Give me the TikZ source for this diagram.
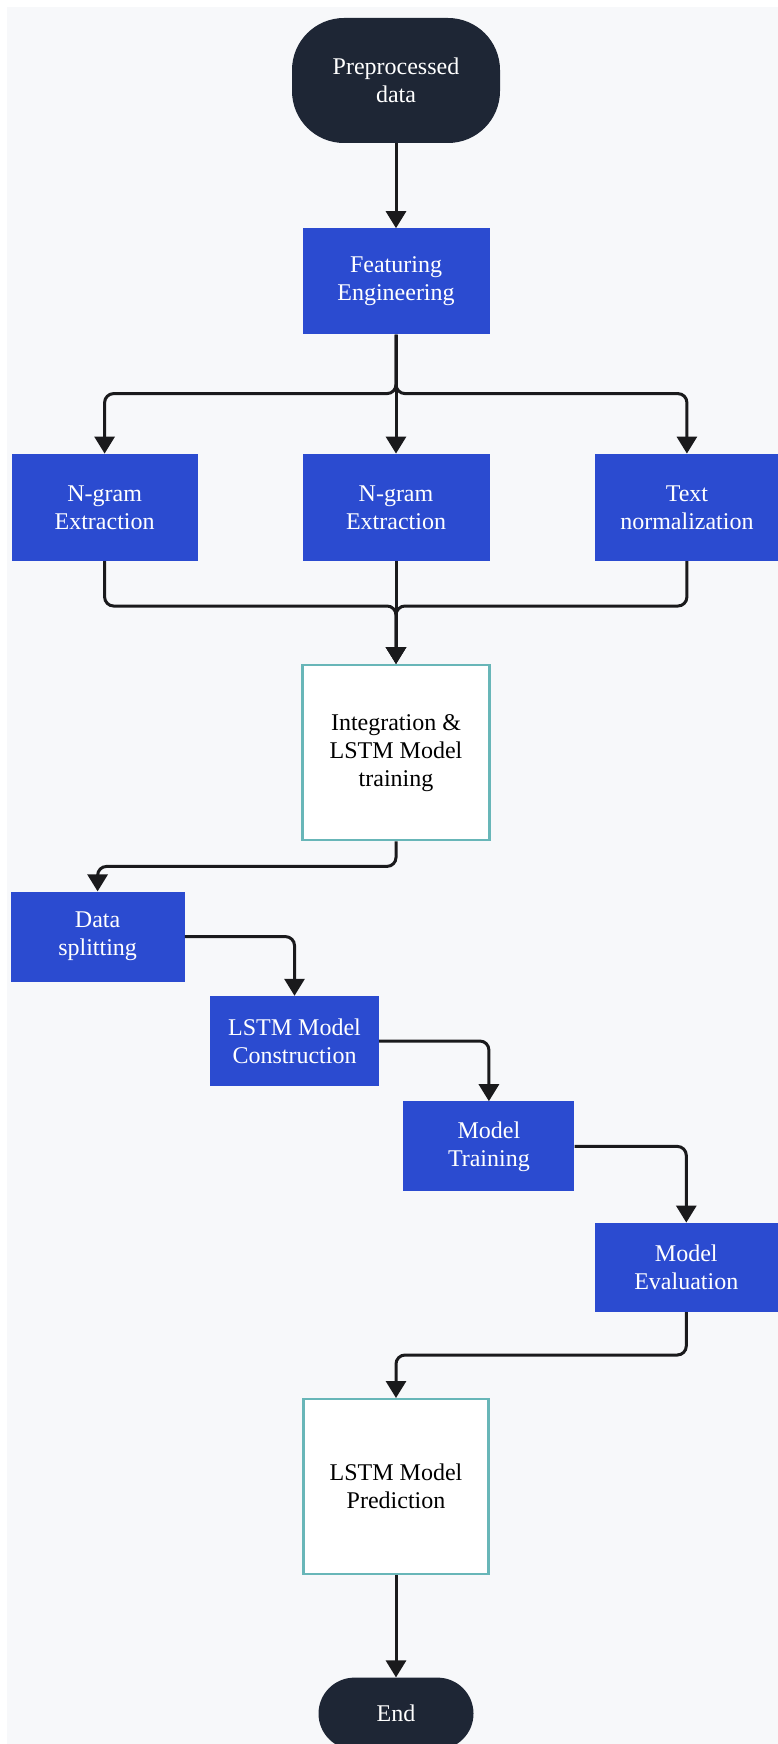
\documentclass[tikz,border=0pt]{standalone}
\usepackage{fontspec}
\setmainfont{Liberation Serif}
\usepackage{tikz}
\usetikzlibrary{arrows.meta,positioning}
\definecolor{boxblue}{RGB}{43,75,208}
\definecolor{navy}{RGB}{30,38,53}
\definecolor{teal}{RGB}{104,182,184}
\definecolor{bgcol}{RGB}{247,248,250}
\definecolor{linecol}{RGB}{26,26,28}

\begin{document}
\begin{tikzpicture}[
  x=1pt, y=1pt, font=\fontsize{24}{28}\selectfont,
  terminal/.style={fill=navy, text=white, align=center, inner sep=0pt},
  bluebox/.style={fill=boxblue, text=white, align=center, inner sep=0pt, minimum height=90pt},
  whitebox/.style={draw=teal, line width=2.4pt, fill=white, align=center, inner sep=0pt, minimum width=185pt, minimum height=175pt},
  arr/.style={draw=linecol, line width=3pt, -{Triangle[width=20pt,length=17pt]}, rounded corners=9pt}]
\fill[white] (0,0) rectangle (778,-1744);
\fill[bgcol] (7,-7) rectangle (778,-1744);
\useasboundingbox (0,0) rectangle (778,-1744);
\node[terminal, minimum width=208pt, minimum height=125pt, rounded corners=52pt] (pre) at (396,-80.5) {Preprocessed\\ data};
\node[bluebox, minimum width=187pt, minimum height=106pt, below=85pt of pre] (fe) {Featuring\\ Engineering};
\node[bluebox, minimum width=187pt, minimum height=107pt, below=119pt of fe] (ng2) {N-gram\\ Extraction};
\node[bluebox, minimum width=186pt, minimum height=107pt, left=104.5pt of ng2] (ng1) {N-gram\\ Extraction};
\node[bluebox, minimum width=183pt, minimum height=107pt, right=105.5pt of ng2] (tn) {Text\\ normalization};
\node[whitebox, minimum width=187pt, below=103pt of ng2] (integ) {Integration \&\\ LSTM Model\\ training};
\node[bluebox, minimum width=174pt, below left=50pt and 116.5pt of integ] (ds) {Data\\ splitting};
\node[bluebox, minimum width=169pt, below right=14pt and 25pt of ds] (lc) {LSTM Model\\ Construction};
\node[bluebox, minimum width=171pt, below right=15pt and 24pt of lc] (mt) {Model\\ Training};
\node[bluebox, minimum width=183pt, minimum height=89pt, below right=31pt and 20pt of mt] (me) {Model\\ Evaluation};
\coordinate (predtop) at (integ |- me.south);
\node[whitebox, below=86pt of predtop] (pred) {LSTM Model\\ Prediction};
\node[terminal, minimum width=155pt, minimum height=72pt, rounded corners=36pt, below=102pt of pred] (endn) {End};
\coordinate[below=59pt of fe.south] (split);
\coordinate[below=45pt of ng2.south] (join);
\draw[arr] (pre) -- (fe);
\draw[arr] (fe.south) -- (split) -| (ng1.north);
\draw[arr] (fe.south) -- (ng2.north);
\draw[arr] (fe.south) -- (split) -| (tn.north);
\draw[arr] (ng1.south) |- (join) -- (integ.north);
\draw[arr] (ng2.south) -- (integ.north);
\draw[arr] (tn.south) |- (join) -- (integ.north);
\draw[arr] (integ.south) -- ++(0,-25) -| (ds.north);
\draw[arr] (ds.east) -| (lc.north);
\draw[arr] (lc.east) -| (mt.north);
\draw[arr] (mt.east) -| (me.north);
\draw[arr] (me.south) -- ++(0,-43) -| (pred.north);
\draw[arr] (pred) -- (endn);
\end{tikzpicture}
\end{document}
